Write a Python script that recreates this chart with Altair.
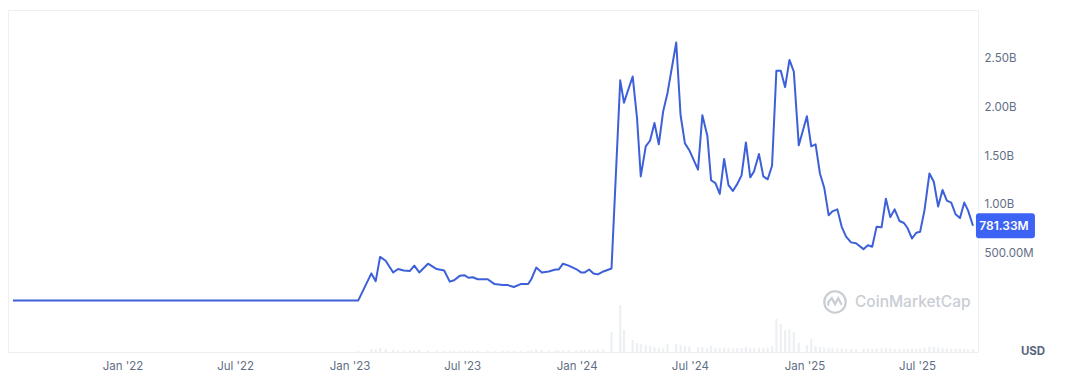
import altair as alt
import pandas as pd

# ---- data ----
price_dates = [
    "2021-07-09", "2023-01-15", "2023-02-05", "2023-02-12", "2023-02-19", "2023-02-28",
    "2023-03-12", "2023-03-20", "2023-03-29", "2023-04-08", "2023-04-15", "2023-04-23",
    "2023-05-07", "2023-05-21", "2023-06-02", "2023-06-11", "2023-06-18", "2023-06-27",
    "2023-07-05", "2023-07-11", "2023-07-18", "2023-07-26", "2023-08-11", "2023-08-22",
    "2023-09-04", "2023-09-12", "2023-09-22", "2023-10-03", "2023-10-15", "2023-10-20",
    "2023-10-28", "2023-11-06", "2023-11-17", "2023-11-28", "2023-12-03", "2023-12-10",
    "2023-12-19", "2023-12-31",
    "2024-01-08", "2024-01-14", "2024-01-21", "2024-01-28", "2024-02-04", "2024-02-13",
    "2024-02-26", "2024-03-11", "2024-03-17", "2024-03-31", "2024-04-07", "2024-04-13",
    "2024-04-21", "2024-04-28", "2024-05-05", "2024-05-12", "2024-05-19", "2024-05-26",
    "2024-06-09", "2024-06-16", "2024-06-23", "2024-06-30", "2024-07-14", "2024-07-21",
    "2024-07-29", "2024-08-04", "2024-08-11", "2024-08-18", "2024-08-25", "2024-09-01",
    "2024-09-08", "2024-09-15", "2024-09-22", "2024-09-29", "2024-10-06", "2024-10-12",
    "2024-10-20", "2024-10-27", "2024-11-03", "2024-11-10", "2024-11-17", "2024-11-24",
    "2024-12-01", "2024-12-08", "2024-12-15", "2024-12-23",
    "2025-01-05", "2025-01-12", "2025-01-19", "2025-01-26", "2025-02-02", "2025-02-09",
    "2025-02-15", "2025-02-23", "2025-03-02", "2025-03-09", "2025-03-17", "2025-03-25",
    "2025-04-06", "2025-04-13", "2025-04-20", "2025-04-27", "2025-05-05", "2025-05-12",
    "2025-05-19", "2025-05-26", "2025-06-03", "2025-06-10", "2025-06-16", "2025-06-23",
    "2025-06-30", "2025-07-06", "2025-07-13", "2025-07-21", "2025-07-28", "2025-08-04",
    "2025-08-11", "2025-08-18", "2025-08-25", "2025-09-01", "2025-09-08", "2025-09-15",
    "2025-09-21", "2025-09-29",
]

# market cap, billions USD
price_values = [
    0.012, 0.012, 0.29, 0.21, 0.46, 0.42,
    0.30, 0.335, 0.32, 0.315, 0.37, 0.30, 0.39, 0.335, 0.32, 0.205, 0.22, 0.265,
    0.27, 0.245, 0.25, 0.23, 0.23, 0.18, 0.17, 0.17, 0.15, 0.18, 0.18, 0.23,
    0.35, 0.30, 0.31, 0.33, 0.33, 0.39, 0.37, 0.335,
    0.30, 0.30, 0.33, 0.29, 0.28, 0.31, 0.34,
    2.28, 2.05, 2.32, 1.89, 1.29, 1.60, 1.66, 1.84, 1.62, 1.96, 2.15,
    2.67, 1.92, 1.63, 1.56, 1.36, 1.92, 1.71, 1.25, 1.22, 1.11, 1.47,
    1.20, 1.14, 1.21, 1.30, 1.64, 1.28, 1.34, 1.52, 1.29, 1.26, 1.40,
    2.38, 2.38, 2.21, 2.49, 2.37, 1.61,
    1.91, 1.60, 1.62, 1.32, 1.17, 0.89, 0.93, 0.95, 0.77, 0.67, 0.61, 0.60,
    0.54, 0.58, 0.565, 0.77, 0.765, 1.06, 0.87, 0.95, 0.83, 0.81, 0.755, 0.65,
    0.71, 0.72, 0.94, 1.32, 1.235, 0.98, 1.15, 1.04, 1.02, 0.90, 0.86, 1.02,
    0.94, 0.78133,
]

# trading volume, millions USD (same dates)
volume_values = [
    0,
    10, 30, 25, 40, 30,
    20, 15, 15, 15, 15, 20, 15, 15, 12, 12, 12, 12, 15, 12, 12, 12, 10, 10,
    10, 10, 10, 12, 12, 15, 25, 20, 15, 15, 15, 20, 18, 15,
    20, 18, 20, 18, 20, 25, 200, 470, 220, 120, 90, 80, 70, 60, 50, 45, 40, 80,
    80, 70, 60, 55, 50, 50, 45, 60, 45, 40, 45, 40, 35, 40, 40, 50, 40, 40,
    45, 40, 45, 60, 330, 280, 220, 230, 200, 90,
    70, 130, 60, 50, 45, 40, 40, 35, 35, 30, 30, 30, 30, 30, 30, 35, 35, 40,
    35, 30, 30, 30, 30, 30, 30, 35, 45, 55, 50, 45, 40, 35, 35, 30, 30, 30,
    30, 30,
]

x_ticks = ["2022-01-01", "2022-07-01", "2023-01-01", "2023-07-01",
           "2024-01-01", "2024-07-01", "2025-01-01", "2025-07-01"]
y_ticks = [0, 0.5, 1.0, 1.5, 2.0, 2.5, 3.0]

df = pd.DataFrame({"date": price_dates, "cap": price_values, "vol": volume_values})
last = df.tail(1)

X_DOMAIN = ["2021-07-09", "2025-09-29"]
Y_DOMAIN = [-0.52, 3.005]
LINE_COLOR = "#3d60d8"
LABEL_COLOR = "#616e85"
FONT = "Inter"

xaxis = alt.Axis(values=x_ticks, format="%b '%y", title=None, grid=False,
                 domain=False, ticks=False, labelPadding=8,
                 labelColor=LABEL_COLOR, labelFontSize=11.5, labelFont=FONT)
xenc = alt.X("date:T", scale=alt.Scale(domain=X_DOMAIN), axis=xaxis)

volume = alt.Chart(df).mark_bar(color="#edf0f3", width=2.2).encode(
    x=xenc,
    y=alt.Y("vol:Q", scale=alt.Scale(domain=[0, 3420]), axis=None),
)

yscale = alt.Scale(domain=Y_DOMAIN, nice=False, zero=False)
yplain = alt.Y("cap:Q", scale=yscale, axis=None)

line = alt.Chart(df).mark_line(color=LINE_COLOR, strokeWidth=2, strokeJoin="round").encode(
    x=xenc,
    y=alt.Y("cap:Q", scale=yscale,
            axis=alt.Axis(orient="right", values=y_ticks, title=None, domain=False,
                          ticks=False, labelPadding=6, labelColor=LABEL_COLOR,
                          labelFontSize=11.5, labelFont=FONT, gridColor="#eef0f3",
                          labelExpr="datum.value <= 0 || datum.value >= 3 ? '' : "
                                    "(datum.value >= 1 ? format(datum.value, '.2f') + 'B' : "
                                    "format(datum.value * 1000, '.2f') + 'M')")),
)

badge_path = ("M0.2,-0.42 L2.0,-0.42 Q2.1,-0.42 2.1,-0.32 L2.1,0.32 Q2.1,0.42 2.0,0.42 "
              "L0.2,0.42 Q0.1,0.42 0.1,0.32 L0.1,-0.32 Q0.1,-0.42 0.2,-0.42 Z")
badge = alt.Chart(last).mark_point(shape=badge_path, filled=True, opacity=1,
                                   color="#3d63f5", size=3481, strokeWidth=0).encode(
    x=xenc, y=yplain)

badge_text = alt.Chart(last).transform_calculate(
    label="format(datum.cap * 1000, '.2f') + 'M'"
).mark_text(color="white", fontSize=12, fontWeight=600, font=FONT, dx=31, align="center",
            baseline="middle").encode(
    x=xenc, y=yplain, text="label:N")

wm_text = alt.Chart(pd.DataFrame({"t": ["CoinMarketCap"]})).mark_text(
    font=FONT, fontSize=15.5, fontWeight=500, color="#c9cdd4", align="left", baseline="middle"
).encode(x=alt.value(847), y=alt.value(292), text="t:N")

wm_circle = alt.Chart(pd.DataFrame({"t": ["logo"]})).mark_point(
    shape="circle", size=460, filled=False, color="#c9cdd4", strokeWidth=2.2, opacity=1
).encode(x=alt.value(827), y=alt.value(292))

wm_wave = alt.Chart(pd.DataFrame({"t": ["logo"]})).mark_point(
    shape="M-0.62,0.35 L-0.62,0.0 L-0.3,-0.35 L0.0,0.2 L0.3,-0.35 L0.62,0.25",
    size=460, filled=False, color="#c9cdd4", strokeWidth=2.2, opacity=1
).encode(x=alt.value(827), y=alt.value(292))

usd = alt.Chart(pd.DataFrame({"t": ["USD"]})).mark_text(
    font=FONT, fontSize=11.5, fontWeight=700, color="#58667e", align="center", baseline="middle"
).encode(x=alt.value(1025), y=alt.value(342), text="t:N")

chart = alt.layer(
    volume, line, badge, badge_text, wm_circle, wm_wave, wm_text, usd
).resolve_scale(y="independent").properties(
    width=970, height=342,
    autosize=alt.AutoSizeParams(type="none"),
    padding={"left": 8, "top": 10, "right": 90, "bottom": 29},
    background="white",
).configure_view(stroke="#eceff3", strokeWidth=1)

chart.save("out.html", embed_options={"renderer": "svg", "actions": False})
